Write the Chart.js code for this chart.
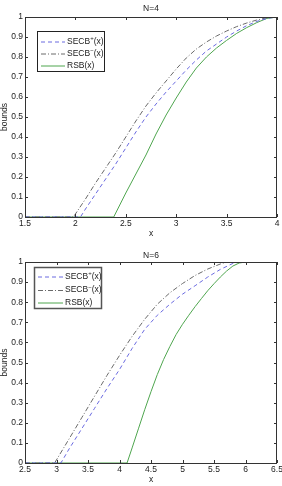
<!DOCTYPE html>
<html>
<head>
<meta charset="utf-8">
<script src="https://cdn.jsdelivr.net/npm/chart.js@4/dist/chart.umd.min.js"></script>
<style>
  body { margin: 0; background: #fff; }
  .box { width: 282px; height: 243px; position: relative; }
</style>
</head>
<body>
<div class="box"><canvas id="c4" width="282" height="243"></canvas></div>
<div class="box"><canvas id="c6" width="282" height="243"></canvas></div>
<script>
// tick labels
var yTicks = [0, 0.1, 0.2, 0.3, 0.4, 0.5, 0.6, 0.7, 0.8, 0.9, 1];
var xTicksN4 = [1.5, 2, 2.5, 3, 3.5, 4];
var xTicksN6 = [2.5, 3, 3.5, 4, 4.5, 5, 5.5, 6, 6.5];

// N=4
var n4SecbPlusX  = [1.5, 2.05, 2.1, 2.2, 2.3, 2.4, 2.5, 2.6, 2.7, 2.8, 2.9, 3.0, 3.1, 3.2, 3.3, 3.4, 3.5, 3.6, 3.7, 3.8, 3.9, 4.0];
var n4SecbPlusY  = [0, 0, 0.04, 0.115, 0.19, 0.265, 0.345, 0.425, 0.5, 0.565, 0.625, 0.68, 0.735, 0.785, 0.83, 0.865, 0.9, 0.93, 0.957, 0.978, 0.993, 1];
var n4SecbMinusX = [1.5, 1.98, 2.1, 2.2, 2.3, 2.4, 2.5, 2.6, 2.7, 2.8, 2.9, 3.0, 3.1, 3.2, 3.3, 3.4, 3.5, 3.6, 3.7, 3.8, 3.9, 4.0];
var n4SecbMinusY = [0, 0, 0.09, 0.17, 0.245, 0.32, 0.4, 0.48, 0.555, 0.62, 0.68, 0.74, 0.795, 0.84, 0.875, 0.905, 0.93, 0.952, 0.97, 0.985, 0.996, 1];
var n4RsbX = [1.5, 2.38, 2.5, 2.6, 2.7, 2.8, 2.9, 3.0, 3.1, 3.2, 3.3, 3.4, 3.5, 3.6, 3.7, 3.8, 3.9, 4.0];
var n4RsbY = [0, 0, 0.12, 0.215, 0.31, 0.415, 0.51, 0.595, 0.675, 0.745, 0.8, 0.845, 0.883, 0.918, 0.947, 0.972, 0.993, 1];

// N=6
var n6SecbPlusX  = [2.5, 3.07, 3.2, 3.4, 3.6, 3.8, 4.0, 4.2, 4.4, 4.6, 4.8, 5.0, 5.2, 5.4, 5.6, 5.8, 5.9, 6.5];
var n6SecbPlusY  = [0, 0, 0.07, 0.17, 0.27, 0.37, 0.465, 0.57, 0.665, 0.735, 0.79, 0.84, 0.882, 0.925, 0.963, 0.993, 1, 1];
var n6SecbMinusX = [2.5, 2.97, 3.2, 3.4, 3.6, 3.8, 4.0, 4.2, 4.4, 4.6, 4.8, 5.0, 5.2, 5.4, 5.6, 5.7, 6.5];
var n6SecbMinusY = [0, 0, 0.12, 0.225, 0.33, 0.435, 0.535, 0.63, 0.715, 0.79, 0.847, 0.893, 0.933, 0.965, 0.99, 1, 1];
var n6RsbX = [2.5, 4.12, 4.2, 4.3, 4.4, 4.5, 4.6, 4.7, 4.8, 4.9, 5.0, 5.1, 5.2, 5.3, 5.4, 5.5, 5.6, 5.7, 5.8, 5.9, 6.0, 6.5];
var n6RsbY = [0, 0, 0.075, 0.17, 0.265, 0.355, 0.44, 0.515, 0.58, 0.64, 0.69, 0.735, 0.778, 0.818, 0.857, 0.892, 0.925, 0.955, 0.98, 0.995, 1, 1];

var FONT = '"Liberation Sans", Arial, sans-serif';

function pts(xs, ys) {
  return xs.map(function (x, i) { return { x: x, y: ys[i] }; });
}

function sets(px, py, mx, my, rx, ry) {
  return [
    { label: 'SECB⁺(x)', data: pts(px, py), borderColor: '#6a6ae0', borderDash: [4, 3], borderWidth: 1 },
    { label: 'SECB⁻(x)', data: pts(mx, my), borderColor: '#6a6a6a', borderDash: [5, 2, 1, 2], borderWidth: 1 },
    { label: 'RSB(x)', data: pts(rx, ry), borderColor: '#4fa64f', borderWidth: 1 }
  ];
}

// frame with inward ticks, title, boxed legend (matlab look)
var framePlugin = {
  id: 'frame',
  afterDraw: function (chart, args, opts) {
    var ctx = chart.ctx, a = chart.chartArea;
    var xs = chart.scales.x, ys = chart.scales.y;
    ctx.save();
    ctx.strokeStyle = '#333';
    ctx.lineWidth = 1;
    ctx.setLineDash([]);
    ctx.strokeRect(Math.round(a.left) + 0.5, Math.round(a.top) + 0.5, Math.round(a.right - a.left) - 1, Math.round(a.bottom - a.top));
    ctx.beginPath();
    xs.ticks.forEach(function (t) {
      var p = Math.round(xs.getPixelForValue(t.value)) + 0.5;
      ctx.moveTo(p, a.bottom); ctx.lineTo(p, a.bottom - 3);
      ctx.moveTo(p, a.top); ctx.lineTo(p, a.top + 3);
    });
    ys.ticks.forEach(function (t) {
      var p = Math.round(ys.getPixelForValue(t.value)) + 0.5;
      ctx.moveTo(a.left, p); ctx.lineTo(a.left + 3, p);
      ctx.moveTo(a.right, p); ctx.lineTo(a.right - 3, p);
    });
    ctx.stroke();

    ctx.fillStyle = '#222';
    ctx.font = '8.5px ' + FONT;
    ctx.textAlign = 'center';
    ctx.textBaseline = 'middle';
    ctx.fillText(opts.title, (a.left + a.right) / 2, a.top - opts.titleGap);

    var b = opts.box;
    var bx = a.left + b[0], by = a.top + b[1];
    ctx.fillStyle = '#fff';
    ctx.fillRect(bx, by, b[2], b[3]);
    ctx.strokeStyle = opts.boxColor;
    ctx.lineWidth = opts.boxWidth;
    ctx.strokeRect(bx + 0.5, by + 0.5, b[2], b[3]);
    ctx.textAlign = 'left';
    chart.data.datasets.forEach(function (ds, i) {
      var ry = by + opts.rows[i];
      ctx.strokeStyle = ds.borderColor;
      ctx.lineWidth = 1;
      ctx.setLineDash(ds.borderDash || []);
      ctx.beginPath();
      ctx.moveTo(bx + opts.sample[0], ry + 0.5);
      ctx.lineTo(bx + opts.sample[1], ry + 0.5);
      ctx.stroke();
      ctx.setLineDash([]);
      ctx.fillStyle = '#222';
      var tx = bx + opts.sample[1] + 2;
      var m = ds.label.match(/^(.*?)([⁺⁻])(.*)$/);
      ctx.font = '8.5px ' + FONT;
      if (m) {
        ctx.fillText(m[1], tx, ry);
        tx += ctx.measureText(m[1]).width;
        ctx.font = '6px ' + FONT;
        var s = m[2] === '⁺' ? '+' : '−';
        ctx.fillText(s, tx, ry - 3);
        tx += ctx.measureText(s).width;
        ctx.font = '8.5px ' + FONT;
        ctx.fillText(m[3], tx, ry);
      } else {
        ctx.fillText(ds.label, tx, ry);
      }
    });
    ctx.restore();
  }
};

function makeChart(id, datasets, xTicks, xMin, xMax, cfg) {
  return new Chart(document.getElementById(id), {
    type: 'scatter',
    data: { datasets: datasets },
    plugins: [framePlugin],
    options: {
      responsive: false,
      animation: false,
      showLine: true,
      elements: { point: { radius: 0 }, line: { tension: 0 } },
      layout: { padding: { left: 0, right: 5, top: cfg.top, bottom: 0 } },
      plugins: {
        legend: { display: false },
        tooltip: { enabled: false },
        frame: cfg.frame
      },
      scales: {
        x: {
          type: 'linear', min: xMin, max: xMax,
          grid: { display: false, drawTicks: false },
          border: { display: false },
          afterBuildTicks: function (s) { s.ticks = xTicks.map(function (v) { return { value: v }; }); },
          afterFit: function (s) { s.height = cfg.xHeight; s.paddingLeft = 0; s.paddingRight = 0; },
          ticks: { padding: 2, color: '#222', font: { family: FONT, size: 8.5 }, maxRotation: 0, autoSkip: false,
                   callback: function (v) { return String(v); } },
          title: { display: true, text: 'x', color: '#222', font: { family: FONT, size: 8.5 }, padding: { top: 0, bottom: cfg.xTitlePad } }
        },
        y: {
          type: 'linear', min: 0, max: 1,
          grid: { display: false, drawTicks: false },
          border: { display: false },
          afterBuildTicks: function (s) { s.ticks = yTicks.map(function (v) { return { value: v }; }); },
          afterFit: function (s) { s.width = 25; s.paddingTop = 0; s.paddingBottom = 0; },
          ticks: { padding: 2, color: '#222', font: { family: FONT, size: 8.5 }, autoSkip: false,
                   callback: function (v) { return String(v); } },
          title: { display: true, text: 'bounds', color: '#222', font: { family: FONT, size: 8.5 }, padding: { top: 0, bottom: 0 } }
        }
      }
    }
  });
}

makeChart('c4', sets(n4SecbPlusX, n4SecbPlusY, n4SecbMinusX, n4SecbMinusY, n4RsbX, n4RsbY), xTicksN4, 1.5, 4, {
  top: 17, xHeight: 26, xTitlePad: 4,
  frame: { title: 'N=4', titleGap: 8, box: [12, 14, 67, 40], boxColor: '#222', boxWidth: 1,
           rows: [10.5, 22.5, 34.5], sample: [4, 28] }
});

makeChart('c6', sets(n6SecbPlusX, n6SecbPlusY, n6SecbMinusX, n6SecbMinusY, n6RsbX, n6RsbY), xTicksN6, 2.5, 6.5, {
  top: 19, xHeight: 23, xTitlePad: 1,
  frame: { title: 'N=6', titleGap: 6.5, box: [9, 5, 67, 41], boxColor: '#555', boxWidth: 1.5,
           rows: [9.5, 23, 35.5], sample: [4, 29] }
});
</script>
</body>
</html>
